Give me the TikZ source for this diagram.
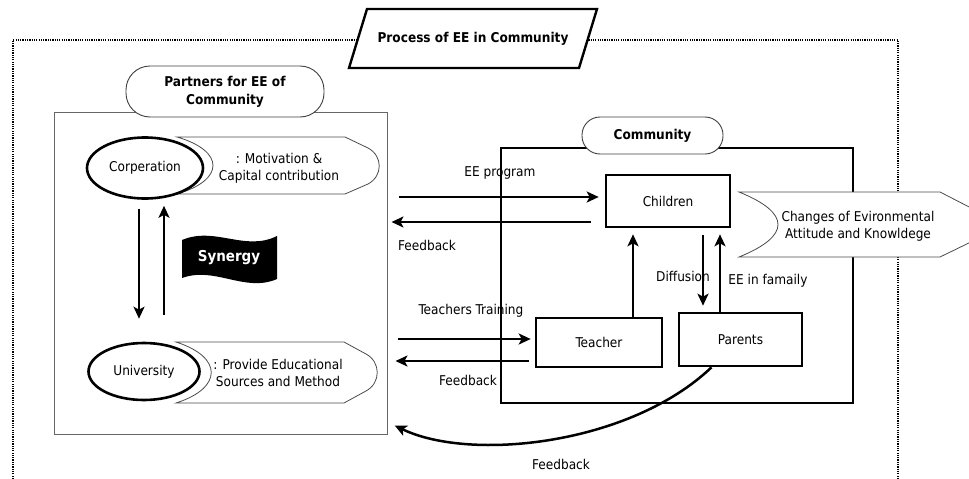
\documentclass[tikz,border=0pt]{standalone}
\usepackage{fontspec}
\setmainfont{DejaVu Sans Condensed}
\usetikzlibrary{arrows.meta,shapes.geometric}
\begin{document}
\begin{tikzpicture}[x=1pt,y=-1pt,
  lbl/.style={font=\fontsize{13.5}{17}\selectfont, align=center, inner sep=0pt},
  blbl/.style={font=\fontsize{13.5}{18}\selectfont\bfseries, align=center, inner sep=0pt},
  arr/.style={line width=2.5pt, -{Stealth[length=12pt,width=11pt,inset=3pt]}},
  frame/.style={line width=1.3pt, dash pattern=on 1.2pt off 1.1pt},
  banner/.style={draw=black!70, line width=0.8pt, fill=white},
  bluebox/.style={draw, line width=2.6pt, fill=white, lbl},
  oval/.style={ellipse, draw, line width=2.6pt, fill=white, lbl},
  stadium/.style={draw=black!75, line width=0.9pt, fill=white, rounded corners=24pt, blbl}
]
\useasboundingbox (0,0) rectangle (969,479);

% outer dotted frame
\draw[frame] (13,479) -- (13,40) -- (898,40) -- (898,479);

% title
\draw[line width=2.4pt, fill=white] (367,9) -- (597,9) -- (579,68) -- (349,68) -- cycle;
\node[blbl] (title) at (473,39) {Process of EE in Community};

% partners box
\node[draw=black!60, line width=1pt, minimum width=333pt, minimum height=322pt] (pbox) at (220.5,273) {};
\node[stadium, minimum width=198pt, minimum height=51pt] (plabel) at (225,91.5) {Partners for EE of\\Community};

% community box
\node[draw, line width=1.6pt, minimum width=352pt, minimum height=255pt] (cbox) at (677,275.5) {};
\node[stadium, minimum width=141pt, minimum height=37pt, rounded corners=18pt] (clabel) at (652.5,135.5) {Community};

% banners
\draw[banner] (177,137) -- (345,137) -- (368,148) .. controls (383,156) and (383,176) .. (368,184) -- (345,194) -- (177,194) .. controls (225,180) and (225,151) .. (177,137) -- cycle;
\node[lbl] (mot) at (279,168) {: Motivation \&\\Capital contribution};

\draw[banner] (176,342) -- (344,342) -- (366,354) .. controls (381,362) and (381,383) .. (366,391) -- (344,403) -- (176,403) .. controls (223,388) and (223,357) .. (176,342) -- cycle;
\node[lbl] (prov) at (278,373) {: Provide Educational\\Sources and Method};

\draw[banner] (739,192) -- (940,192) -- (975,210) -- (975,240) -- (940,257) -- (739,257) .. controls (791,236) and (791,213) .. (739,192) -- cycle;
\node[lbl] (chg) at (858,226) {Changes of Evironmental\\Attitude and Knowldege};

% partners
\node[oval, minimum width=116pt, minimum height=61pt] (corp) at (145,168) {Corperation};
\node[oval, minimum width=111pt, minimum height=57pt] (univ) at (144,371.5) {University};

% synergy flag
\fill[black] (182,240) .. controls (215,226) and (245,252) .. (277,236) -- (277,279) .. controls (245,293) and (215,266) .. (182,278) -- cycle;
\node[font=\fontsize{15}{18}\selectfont\bfseries, text=white, inner sep=0pt] (syn) at (229,258) {Synergy};

% community members
\node[bluebox, minimum width=124pt, minimum height=52pt] (children) at (668,201) {Children};
\node[bluebox, minimum width=126pt, minimum height=49pt] (teacher) at (599,342.5) {Teacher};
\node[bluebox, minimum width=123pt, minimum height=53pt] (parents) at (740.5,339.5) {Parents};

% helper coordinates
\coordinate (yEE) at (0,197);
\coordinate (yFB) at (0,222);
\coordinate (yTT) at (0,339);
\coordinate (yFB2) at (0,361);
\coordinate (yCF) at (0,422);
\coordinate (xT) at (633,0);
\coordinate (xD) at (703,0);
\coordinate (xF) at (720,0);

% arrows partners
\draw[arr, shorten <=9pt, shorten >=23pt] ([xshift=-6pt]corp.south) -- ([xshift=-5pt]univ.north);
\draw[arr, shorten <=27pt, shorten >=6pt] ([xshift=20pt]univ.north) -- ([xshift=19pt]corp.south);

% horizontal arrows
\draw[arr, shorten <=11pt, shorten >=6pt] (pbox.east |- yEE) -- (children.west |- yEE);
\draw[arr, shorten <=14pt, shorten >=4pt] (children.west |- yFB) -- (pbox.east |- yFB);
\draw[arr, shorten <=10pt, shorten >=4pt] (pbox.east |- yTT) -- (teacher.west |- yTT);
\draw[arr, shorten <=6pt, shorten >=8pt] (teacher.west |- yFB2) -- (pbox.east |- yFB2);

% vertical arrows in community
\draw[arr, shorten >=6pt] (teacher.north -| xT) -- (children.south -| xT);
\draw[arr, shorten <=7pt, shorten >=6pt] (children.south -| xD) -- (parents.north -| xD);
\draw[arr, shorten >=6pt] (parents.north -| xF) -- (children.south -| xF);

% curved feedback
\draw[arr, shorten >=8pt] ([xshift=-29pt]parents.south) .. controls (630,445) and (470,462) .. (pbox.east |- yCF);

% labels
\node[lbl] (lee) at (500,173) {EE program};
\node[lbl] (lfb1) at (427,245) {Feedback};
\node[lbl] (ltt) at (471,311) {Teachers Training};
\node[lbl] (lfb2) at (468,380) {Feedback};
\node[lbl] (ldif) at (683,276) {Diffusion};
\node[lbl] (lfam) at (768,281) {EE in famaily};
\node[lbl] (lfb3) at (561,464) {Feedback};
\end{tikzpicture}
\end{document}
